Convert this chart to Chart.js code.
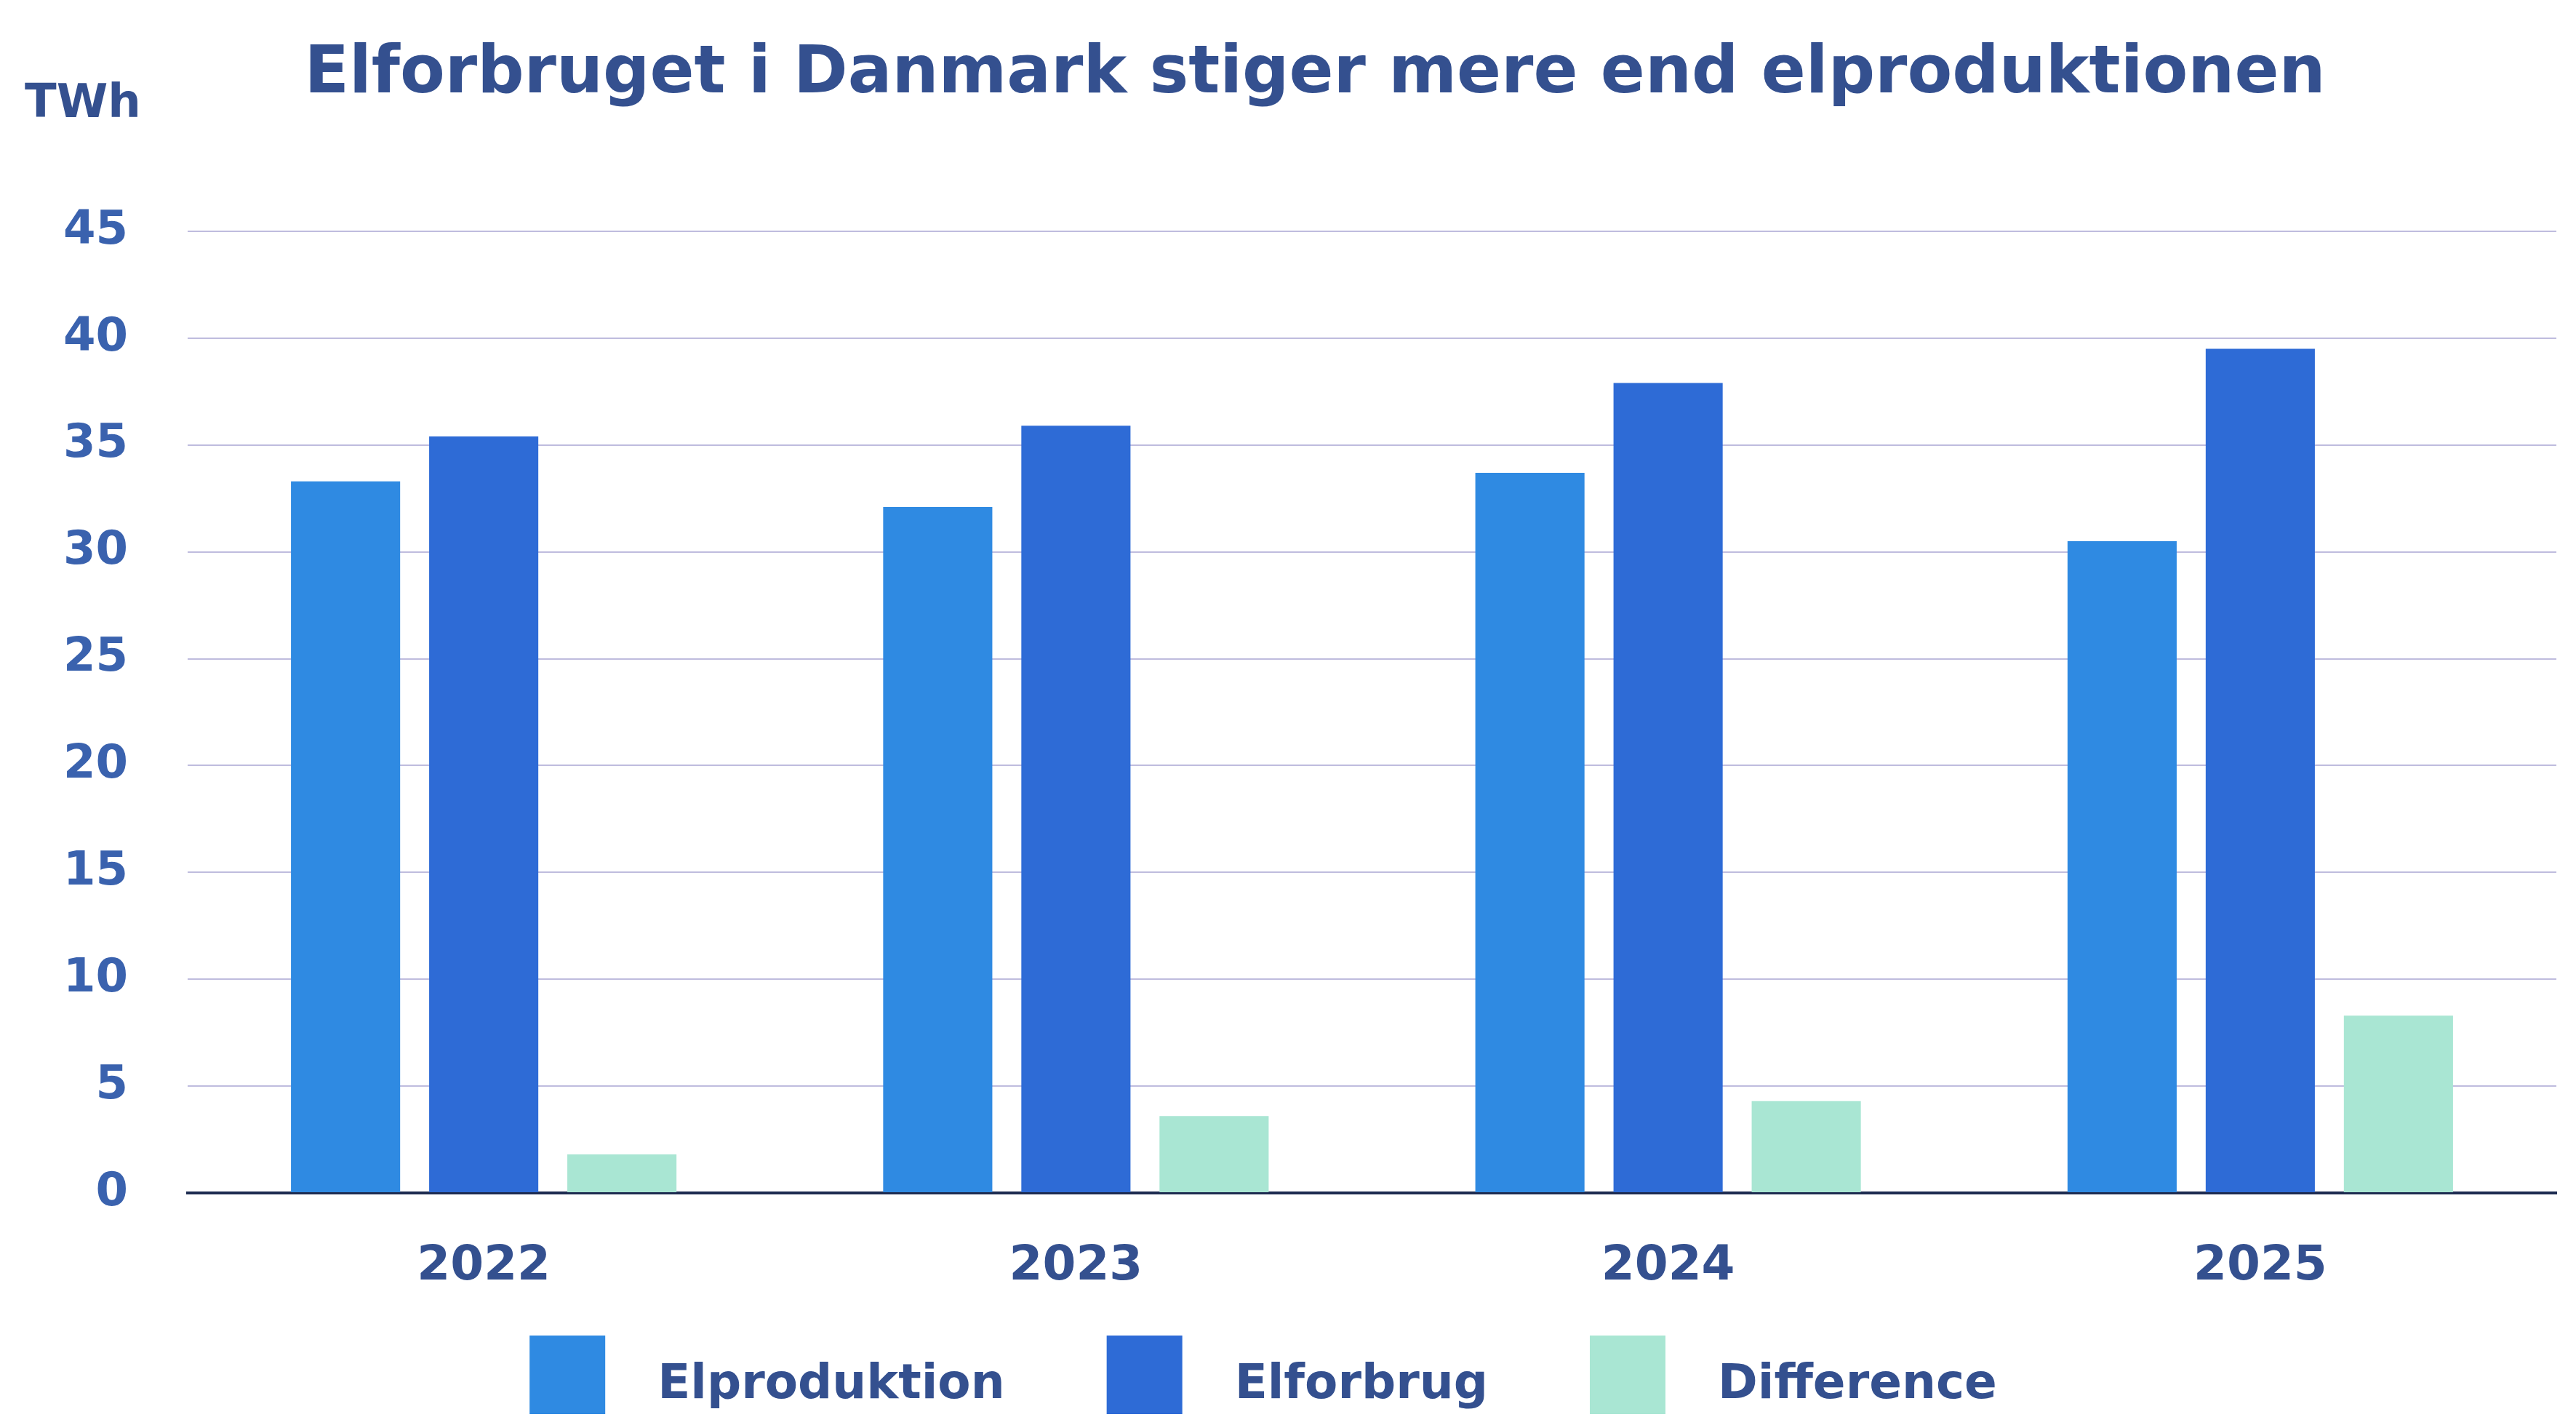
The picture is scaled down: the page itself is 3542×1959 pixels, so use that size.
<!DOCTYPE html>
<html>
<head>
<meta charset="utf-8">
<script src="https://cdn.jsdelivr.net/npm/chart.js@4/dist/chart.umd.min.js"></script>
<style>
  html, body { margin: 0; padding: 0; background: #ffffff; }
  #wrap { width: 3542px; height: 1959px; }
</style>
</head>
<body>
<div id="wrap"><canvas id="c" width="3542" height="1959"></canvas></div>
<script>
const titleText = "Elforbruget i Danmark stiger mere end elproduktionen";
const unitLabel = "TWh";
const years = ["2022", "2023", "2024", "2025"];
const elproduktion = [33.3, 32.1, 33.7, 30.5];
const elforbrug = [35.4, 35.9, 37.9, 39.5];
const difference = [1.8, 3.6, 4.3, 8.3];
const seriesNames = ["Elproduktion", "Elforbrug", "Difference"];
const yTicks = [0, 5, 10, 15, 20, 25, 30, 35, 40, 45];

const colProd = "#2f8ae2";
const colForbrug = "#2e6bd6";
const colDiff = "#a9e6d3";
const navy = "#34508f";
const tickBlue = "#3a62ae";

const textPlugin = {
  id: "textPlugin",
  afterDraw(chart) {
    const ctx = chart.ctx;
    ctx.save();
    ctx.fillStyle = navy;
    ctx.textBaseline = "middle";
    ctx.textAlign = "center";
    ctx.font = 'bold 90px "DejaVu Sans"';
    ctx.fillText(titleText, 1808, 104);
    ctx.textAlign = "left";
    ctx.font = 'bold 64px "DejaVu Sans"';
    ctx.fillText(unitLabel, 34, 144);

    // legend built from datasets
    const ds = chart.data.datasets;
    ctx.font = 'bold 66px "DejaVu Sans"';
    const boxW = 104, boxH = 108, gapText = 72, gapItem = 140;
    let total = 0;
    const widths = ds.map(d => ctx.measureText(d.label).width);
    widths.forEach((w, i) => { total += boxW + gapText + w + (i < ds.length - 1 ? gapItem : 0); });
    let x = 1737 - total / 2;
    ds.forEach((d, i) => {
      ctx.fillStyle = d.backgroundColor;
      ctx.fillRect(x, 1836, boxW, boxH);
      ctx.fillStyle = navy;
      ctx.textAlign = "left";
      ctx.fillText(d.label, x + boxW + gapText, 1905);
      x += boxW + gapText + widths[i] + gapItem;
    });
    ctx.restore();
  }
};

new Chart(document.getElementById("c"), {
  type: "bar",
  data: {
    labels: years,
    datasets: [
      { label: seriesNames[0], data: elproduktion, backgroundColor: colProd },
      { label: seriesNames[1], data: elforbrug, backgroundColor: colForbrug },
      { label: seriesNames[2], data: difference, backgroundColor: colDiff }
    ]
  },
  options: {
    responsive: false,
    animation: false,
    maintainAspectRatio: false,
    devicePixelRatio: 1,
    layout: { padding: { left: 0, right: 27, top: 318, bottom: 0 } },
    datasets: { bar: { categoryPercentage: 0.70, barPercentage: 0.79 } },
    plugins: {
      legend: { display: false },
      title: { display: false },
      tooltip: { enabled: false }
    },
    scales: {
      x: {
        grid: { display: false, drawTicks: false },
        border: { display: true, color: "#1d2b50", width: 4 },
        ticks: { color: navy, font: { family: "DejaVu Sans", weight: "bold", size: 66 }, padding: 62 },
        afterFit(s) { s.height = 1959 - 318 - 1322; }
      },
      y: {
        min: 0, max: 45,
        afterBuildTicks(s) { s.ticks = yTicks.map(v => ({ value: v })); },
        grid: { color: "#bfbcde", lineWidth: 2, drawTicks: false },
        border: { display: false },
        ticks: { color: tickBlue, font: { family: "DejaVu Sans", weight: "bold", size: 64 }, padding: 82 },
        afterFit(s) { s.width = 258; }
      }
    }
  },
  plugins: [textPlugin]
});
</script>
</body>
</html>
